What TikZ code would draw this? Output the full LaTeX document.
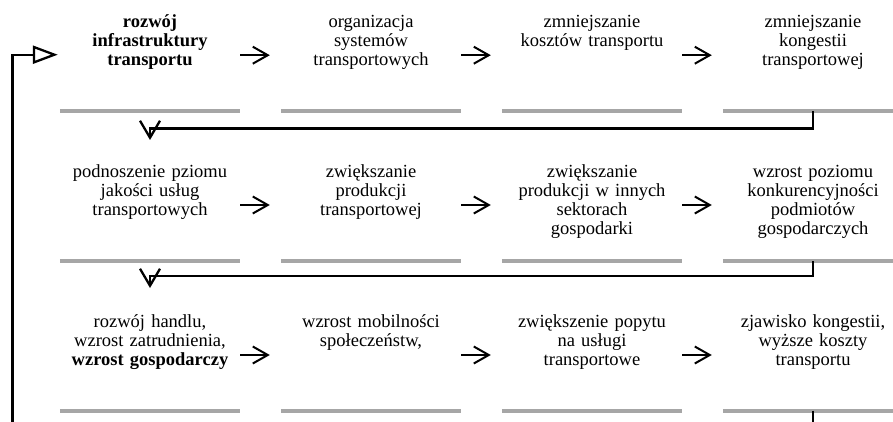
\documentclass[tikz,border=0pt]{standalone}
\usepackage{fontspec}
\setmainfont{Liberation Serif}
\usetikzlibrary{arrows.meta,calc}
\setlength{\parindent}{0pt}
\begin{document}
\begin{tikzpicture}[x=1pt,y=-1pt,
  cell/.style={text width=180pt, align=center, inner sep=0pt, anchor=north,
    font=\fontsize{18.5}{19}\selectfont, execute at begin node=\strut},
  bar/.style={line width=4pt, draw=black!35},
  flow/.style={line width=2pt, -{Straight Barb[length=15pt,width=17pt]}},
  link/.style={line width=2.3pt, -{Straight Barb[length=17pt,width=20pt]}},
  stub/.style={line width=2.3pt},
  back/.style={line width=2.3pt, -{Triangle[open,length=25pt,width=18pt]}}
]
\useasboundingbox (0,0) rectangle (893,422);
\clip (0,0) rectangle (893,422);

% rows of the chain
\node[cell,font=\fontsize{18.5}{19}\selectfont\bfseries] (c11) at (150,13.7) {rozwój\\infrastruktury\\transportu};
\node[cell] (c12) at (371,13.7) {organizacja\\systemów\\transportowych};
\node[cell] (c13) at (592,13.7) {zmniejszanie\\kosztów transportu};
\node[cell] (c14) at (813,13.7) {zmniejszanie\\kongestii\\transportowej};

\node[cell] (c21) at (150,163.5) {podnoszenie pziomu\\jakości usług\\transportowych};
\node[cell] (c22) at (371,163.5) {zwiększanie\\produkcji\\transportowej};
\node[cell] (c23) at (592,163.5) {zwiększanie\\produkcji w innych\\sektorach\\gospodarki};
\node[cell] (c24) at (813,163.5) {wzrost poziomu\\konkurencyjności\\podmiotów\\gospodarczych};

\node[cell] (c31) at (150,313.5) {rozwój handlu,\\wzrost zatrudnienia,\\\textbf{wzrost gospodarczy}};
\node[cell] (c32) at (371,313.5) {wzrost mobilności\\społeczeństw,};
\node[cell] (c33) at (592,313.5) {zwiększenie popytu\\na usługi\\transportowe};
\node[cell] (c34) at (813,313.5) {zjawisko kongestii,\\wyższe koszty\\transportu};

% rule heights under each row, and the foot of the page
\coordinate (r1) at (0,111);
\coordinate (r2) at (0,261);
\coordinate (r3) at (0,410.5);
\coordinate (foot) at (12.5,440);

% grey rules under the cells
\foreach \r in {1,2,3}{
  \foreach \c in {1,2,3,4}{
    \draw[bar] (c\r\c.west |- r\r) -- (c\r\c.east |- r\r);
  }
}

% arrows within each row
\foreach \r in {1,2,3}{
  \foreach \c/\d in {1/2,2/3,3/4}{
    \draw[flow] ($(c\r\c.north east)+(0,41.5)$) -- ($(c\r\d.north west)+(-11,41.5)$);
  }
}

% row-to-row connectors
\draw[link] (c14 |- r1) -- ++(0,17.5) -| ($(c21.north)+(0,-23.5)$);
\draw[link] (c24 |- r2) -- ++(0,15) -| ($(c31.north)+(0,-25.5)$);
\draw[stub] (c34 |- r3) -- (c34 |- foot);

% feedback into the first cell
\draw[back] (foot) |- ($(c11.north west)+(-2,41)$);
\end{tikzpicture}
\end{document}
